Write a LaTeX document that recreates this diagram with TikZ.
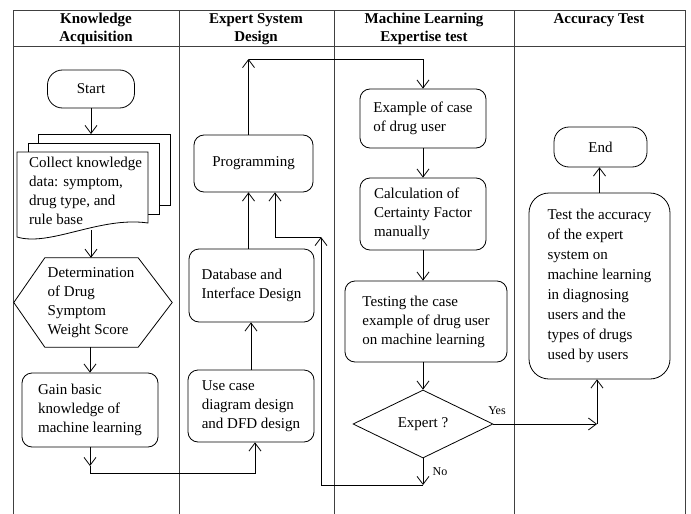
\documentclass[tikz,border=0pt]{standalone}
\usepackage{fontspec}
\setmainfont{Liberation Serif}
\usetikzlibrary{arrows.meta,shapes.geometric}
\begin{document}
\begin{tikzpicture}[x=1pt,y=-1pt,
  txt/.style={font=\fontsize{15}{19}\selectfont},
  hdr/.style={font=\fontsize{15}{18}\selectfont\bfseries, align=center},
  box/.style={txt, draw, rounded corners=10pt, align=left, inner sep=0pt, line width=0.8pt},
  term/.style={txt, draw, rounded corners=15pt, inner sep=0pt, line width=0.8pt},
  arr/.style={-{Straight Barb[length=8pt,width=12pt]}, line width=0.8pt},
  ln/.style={line width=0.8pt},
  grid/.style={line width=0.9pt, black!75},
  lbl/.style={font=\fontsize{12}{14}\selectfont}
]
\useasboundingbox (0,0) rectangle (691,514);
% frame
\draw[grid] (13,10) -- (685,10);
\draw[grid] (13,46) -- (685,46);
\foreach \x in {13,179,334,514,685} \draw[grid] (\x,10) -- (\x,514);
% headers
\node[hdr] (h1) at (96,29) {Knowledge\\Acquisition};
\node[hdr] (h2) at (256,29) {Expert System\\Design};
\node[hdr] (h3) at (424,29) {Machine Learning\\Expertise test};
\node[hdr] (h4) at (599,20) {Accuracy Test};
% column 1
\node[term, minimum width=87pt, minimum height=38pt] (start) at (91,89) {Start};
\draw[ln, fill=white] (38,134) rectangle (170,205);
\draw[ln, fill=white] (28,143) rectangle (159,214);
\draw[ln, fill=white] (17,152) -- (148,152) -- (148,223) .. controls (100,216) and (50,247) .. (17,237) -- cycle;
\node[txt, align=left, anchor=west, inner sep=0pt] (collect) at (29,191) {Collect knowledge\\data: symptom,\\drug type, and\\rule base};
\coordinate (ctop) at (91,134);
\coordinate (cbot) at (91,230);
\draw[arr] (start.south) -- (ctop);
\node[txt, align=left, minimum width=158pt, minimum height=89pt, inner sep=0pt] (hex) at (91,302.5) {Determination\\of Drug\\Symptom\\Weight Score};
\draw[ln] ([xshift=2pt]hex.west) -- ([xshift=33pt]hex.north west) -- ([xshift=-32pt]hex.north east) -- ([xshift=2pt]hex.east) -- ([xshift=-32pt]hex.south east) -- ([xshift=33pt]hex.south west) -- cycle;
\draw[arr] (cbot) -- (cbot |- hex.north);
\node[box, minimum width=136pt, minimum height=74pt] (gain) at (90,410) {Gain basic\\knowledge of\\machine learning};
\draw[arr] (hex.south -| gain.north) -- (gain.north);
% column 2
\node[box, minimum width=126pt, minimum height=72pt] (uc) at (251,406) {Use case\\diagram design\\and DFD design};
\node[box, minimum width=125pt, minimum height=73pt] (db) at (251.5,285.5) {Database and\\Interface Design};
\node[box, minimum width=119pt, minimum height=57pt] (prog) at (253.5,163.5) {Programming};
\coordinate (g1) at (90,466);
\coordinate (g2) at (90,473);
\draw[arr] (gain.south) -- (g1);
\draw[arr] (g1) -- (g2) -| ([xshift=4pt]uc.south);
\draw[arr] (uc.north) -- (uc.north |- db.south);
\coordinate (d1) at ([xshift=-3pt]db.north);
\draw[arr] (d1) -- (d1 |- prog.south);
\coordinate (t1) at ([xshift=-5pt]prog.north);
\coordinate (t2) at (248.5,59);
% column 3
\node[box, minimum width=126pt, minimum height=59pt] (ex) at (423,118.5) {Example of case\\of drug user};
\node[box, minimum width=126pt, minimum height=72pt] (calc) at (423,214) {Calculation of\\Certainty Factor\\manually};
\node[box, minimum width=162pt, minimum height=81pt] (tst) at (426,321.5) {Testing the case\\example of drug user\\on machine learning};
\node[txt, draw, diamond, aspect=2, minimum width=140pt, minimum height=68pt, inner sep=0pt, line width=0.8pt] (dia) at (423,424) {Expert ?};
\draw[arr] (t1) -- (t2);
\draw[arr] (t2) -| (ex.north);
\draw[arr] (ex.south) -- (calc.north);
\draw[arr] (calc.south) -- (calc.south |- tst.north);
\draw[arr] (dia.north |- tst.south) -- (dia.north);
% column 4
\node[box, rounded corners=20pt, font=\fontsize{15}{20}\selectfont, minimum width=141pt, minimum height=186pt] (acc) at (599.5,286) {Test the accuracy\\of the expert\\system on\\machine learning\\in diagnosing\\users and the\\types of drugs\\used by users};
\node[term, minimum width=93pt, minimum height=40pt] (finish) at (600.5,147) {End};
\draw[arr] (acc.north) -- (acc.north |- finish.south);
% yes branch
\coordinate (y1) at (597,424);
\draw[arr] (dia.east) -- (y1);
\draw[arr] (y1) -- (y1 |- acc.south);
\node[lbl] (yes) at (497,411) {Yes};
% no branch
\coordinate (n1) at (423,485);
\coordinate (n2) at (321,485);
\coordinate (n3) at (321,237);
\coordinate (n4) at (275,237);
\draw[arr] (dia.south) -- (n1);
\draw[arr] (n1) -- (n2) -- (n3);
\draw[arr] (n3) -- (n4) -- (n4 |- prog.south);
\node[lbl] (no) at (440,472) {No};
\end{tikzpicture}
\end{document}
